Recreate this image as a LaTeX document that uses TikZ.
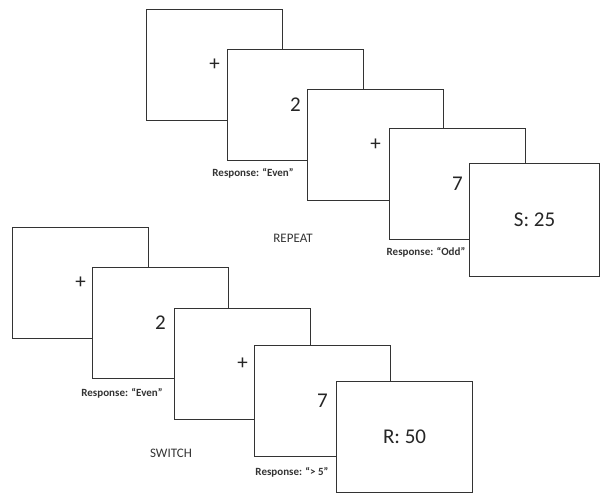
\documentclass[tikz,border=0pt]{standalone}
\usepackage{fontspec}
\setmainfont{Carlito}
\begin{document}
\begin{tikzpicture}[x=1pt,y=-1pt,
  screen/.style={draw=black!80,line width=1.1pt,fill=white,rectangle,anchor=north west,
    minimum width=136pt,minimum height=111pt,inner sep=0pt,font=\fontsize{21}{21}\selectfont,text=black!85},
  resp/.style={font=\bfseries\fontsize{11}{11}\selectfont,text=black!80,inner sep=0pt},
  cond/.style={font=\fontsize{13}{13}\selectfont,text=black!80,inner sep=0pt}]
\useasboundingbox (0,0) rectangle (600,493);
% REPEAT row
\node[screen] (r1) at (146,9) {+};
\node[screen] (r2) at (227,49) {2};
\node[screen] (r3) at (307,89) {+};
\node[screen] (r4) at (389,128) {7};
\node[screen,minimum width=130pt,minimum height=113pt] (r5) at (469,163) {S: 25};
\node[resp] (re1) at (253,173) {Response: “Even”};
\node[resp] (re2) at (426,252) {Response: “Odd”};
\node[cond] (rep) at (293,238) {REPEAT};
% SWITCH row
\node[screen] (s1) at (12,227) {+};
\node[screen] (s2) at (92,267) {2};
\node[screen] (s3) at (174,308) {+};
\node[screen] (s4) at (254,345) {7};
\node[screen] (s5) at (336,381) {R: 50};
\node[resp] (se1) at (122,393) {Response: “Even”};
\node[resp] (se2) at (292,472) {Response: “> 5”};
\node[cond] (swi) at (171,453) {SWITCH};
\end{tikzpicture}
\end{document}
